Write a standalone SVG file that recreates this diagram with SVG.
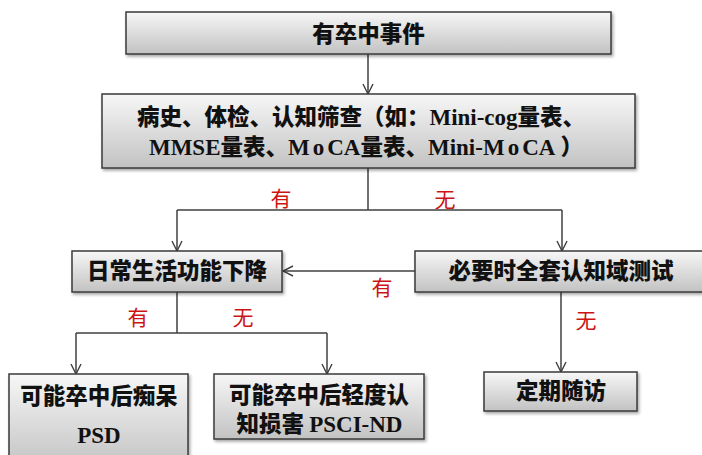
<svg xmlns="http://www.w3.org/2000/svg" width="702" height="455" viewBox="0 0 702 455">
<defs>
<linearGradient id="g" x1="0" y1="0" x2="0" y2="1">
<stop offset="0" stop-color="#f7f7f7"/>
<stop offset="1" stop-color="#c2c2c2"/>
</linearGradient>
<filter id="sh" x="-5%" y="-10%" width="110%" height="130%">
<feDropShadow dx="1.5" dy="2" stdDeviation="1.5" flood-color="#000" flood-opacity="0.35"/>
</filter>
<marker id="arr" viewBox="0 0 12 12" refX="11" refY="6" markerWidth="12" markerHeight="12" markerUnits="userSpaceOnUse" orient="auto">
<path d="M1,1 L11,6 L1,11" fill="none" stroke="#404040" stroke-width="1.4"/>
</marker>
<style>
.box{fill:url(#g);stroke:#3a3a3a;stroke-width:1.5;filter:url(#sh)}
.t{font-family:"Noto Sans CJK SC","Noto Sans",sans-serif;font-weight:900;font-size:22.5px;fill:#111;text-anchor:middle}
.r{font-family:"Liberation Serif","Times New Roman",serif;font-weight:bold;font-size:23px}
.lbl{font-family:"Noto Sans CJK SC","Noto Sans",sans-serif;font-size:21px;fill:#cc1414;text-anchor:middle}
.c{fill:none;stroke:#404040;stroke-width:1.5}
</style>
</defs>
<g id="connectors">
<path class="c" d="M368,54 V94" marker-end="url(#arr)"/>
<path class="c" d="M368,168 V210 M177,210 H562"/>
<path class="c" d="M177,210 V251" marker-end="url(#arr)"/>
<path class="c" d="M562,210 V251" marker-end="url(#arr)"/>
<path class="c" d="M415,271 H283" marker-end="url(#arr)"/>
<path class="c" d="M177,292 V333 M76,333 H327"/>
<path class="c" d="M76,333 V374" marker-end="url(#arr)"/>
<path class="c" d="M327,333 V374" marker-end="url(#arr)"/>
<path class="c" d="M561,291 V372" marker-end="url(#arr)"/>
<text class="lbl" x="281" y="206">有</text>
<text class="lbl" x="445" y="207">无</text>
<text class="lbl" x="382" y="295">有</text>
<text class="lbl" x="138" y="325">有</text>
<text class="lbl" x="243" y="325">无</text>
<text class="lbl" x="586" y="328">无</text>
</g>
<g id="n1">
<rect class="box" x="126" y="12" width="485" height="42"/>
<text class="t" x="368.5" y="42">有卒中事件</text>
</g>
<g id="n2">
<rect class="box" x="102" y="94" width="533" height="74"/>
<text class="t" x="361" y="125" font-size="22">病史、体检、认知筛查（如：<tspan class="r">Mini-cog</tspan>量表、</text>
<text class="t" x="366" y="155" font-size="22"><tspan class="r">MMSE</tspan>量表、<tspan class="r"><tspan letter-spacing="3">Mo</tspan>CA</tspan>量表、<tspan class="r">Mini-<tspan letter-spacing="3">Mo</tspan>CA</tspan> ）</text>
</g>
<g id="n3">
<rect class="box" x="72" y="251" width="210" height="41"/>
<text class="t" x="177" y="279">日常生活功能下降</text>
</g>
<g id="n4">
<rect class="box" x="415" y="251" width="300" height="41"/>
<text class="t" x="561" y="279">必要时全套认知域测试</text>
</g>
<g id="n5">
<rect class="box" x="9" y="374" width="179" height="95"/>
<text class="t" x="99" y="404">可能卒中后痴呆</text>
<text class="t" x="99" y="443"><tspan class="r">PSD</tspan></text>
</g>
<g id="n6">
<rect class="box" x="214" y="374" width="210" height="65"/>
<text class="t" x="319" y="403">可能卒中后轻度认</text>
<text class="t" x="319.5" y="432">知损害 <tspan class="r">PSCI-ND</tspan></text>
</g>
<g id="n7">
<rect class="box" x="484" y="372" width="153" height="39"/>
<text class="t" x="561" y="399">定期随访</text>
</g>
</svg>
